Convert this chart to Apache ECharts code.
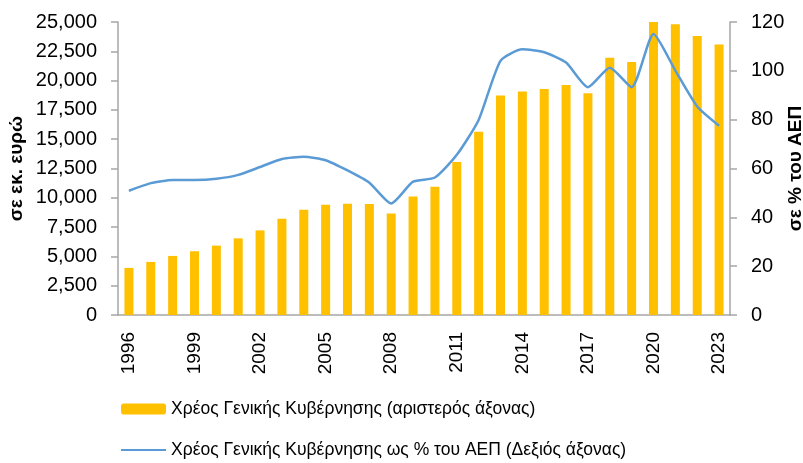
<!DOCTYPE html>
<html>
<head>
<meta charset="utf-8">
<script src="https://cdn.jsdelivr.net/npm/echarts@6/dist/echarts.min.js"></script>
<style>
html,body{margin:0;padding:0;background:#fff;}
#chart{width:803px;height:463px;}
</style>
</head>
<body>
<div id="chart"></div>
<script>
const years = ['1996','1997','1998','1999','2000','2001','2002','2003','2004','2005','2006','2007','2008','2009','2010','2011','2012','2013','2014','2015','2016','2017','2018','2019','2020','2021','2022','2023'];
const debtMillions = [4020,4530,5040,5440,5920,6540,7220,8220,8990,9410,9500,9470,8670,10120,10950,13050,15630,18720,19060,19290,19630,18930,21960,21590,25110,24800,23800,23070];
const debtPctGdp = [50.9,54.0,55.3,55.3,55.8,57.4,60.6,63.9,64.8,63.4,59.2,54.2,45.7,54.6,56.3,65.6,79.9,104.1,108.8,107.6,103.4,93.3,101.3,93.3,115.1,100.1,85.4,77.5];
const leftTicks = {min:0, max:25000, interval:2500};
const rightTicks = {min:0, max:120, interval:20};
const barName = 'Χρέος Γενικής Κυβέρνησης (αριστερός άξονας)';
const lineName = 'Χρέος Γενικής Κυβέρνησης ως % του ΑΕΠ (Δεξιός άξονας)';
const leftTitle = 'σε εκ. ευρώ';
const rightTitle = 'σε % του ΑΕΠ';

const FONT = "'Liberation Sans', Arial, sans-serif";
const chart = echarts.init(document.getElementById('chart'), null, {renderer:'canvas'});
const axisColor = '#A6A6A6';
chart.setOption({
  animation:false,
  textStyle:{fontFamily:FONT},
  grid:{left:118, right:73, top:22, bottom:148, containLabel:false, outerBoundsMode:'none'},
  legend:{
    orient:'vertical', left:120, top:399, itemGap:21, padding:0, height:70,
    itemWidth:45, itemHeight:11,
    textStyle:{fontFamily:FONT, fontSize:17.5, color:'#000', lineHeight:20},
    data:[{name:barName},{name:lineName, itemStyle:{opacity:0}}]
  },
  xAxis:{
    type:'category', data:years, boundaryGap:true,
    axisLine:{lineStyle:{color:axisColor, width:1.5}},
    axisTick:{show:false},
    axisLabel:{rotate:90, interval:2, margin:17, fontSize:19, color:'#000', fontFamily:FONT}
  },
  yAxis:[{
    type:'value', min:leftTicks.min, max:leftTicks.max, interval:leftTicks.interval,
    name:leftTitle, nameLocation:'middle', nameRotate:90, nameGap:92, nameMoveOverlap:false,
    nameTextStyle:{fontFamily:FONT, fontSize:19, fontWeight:'bold', color:'#000'},
    axisLine:{show:true, lineStyle:{color:axisColor, width:1.5}},
    axisTick:{show:true, length:7, lineStyle:{color:axisColor, width:1.5}},
    splitLine:{show:false},
    axisLabel:{fontSize:20, color:'#000', margin:21, fontFamily:FONT,
      formatter:v=>v.toLocaleString('en-US')}
  },{
    type:'value', position:'right', min:rightTicks.min, max:rightTicks.max, interval:rightTicks.interval,
    name:rightTitle, nameLocation:'middle', nameRotate:90, nameGap:56, nameMoveOverlap:false,
    nameTextStyle:{fontFamily:FONT, fontSize:19, fontWeight:'bold', color:'#000'},
    axisLine:{show:true, lineStyle:{color:axisColor, width:1.5}},
    axisTick:{show:true, length:7, lineStyle:{color:axisColor, width:1.5}},
    splitLine:{show:false},
    axisLabel:{fontSize:20, color:'#000', margin:21, fontFamily:FONT}
  }],
  series:[{
    name:barName, type:'bar', yAxisIndex:0, data:debtMillions,
    barWidth:9, itemStyle:{color:'#FFC000'}
  },{
    name:lineName, type:'line', yAxisIndex:1, data:debtPctGdp,
    symbol:'none', smooth:0.2,
    lineStyle:{color:'#5B9BD5', width:2.5}, itemStyle:{color:'#5B9BD5'}
  }]
});
</script>
</body>
</html>
